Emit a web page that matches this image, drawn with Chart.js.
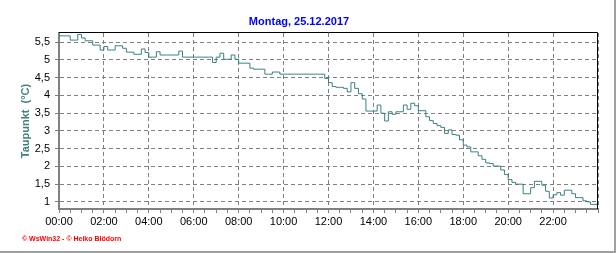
<!DOCTYPE html>
<html lang="de">
<head>
    <meta charset="UTF-8">
    <title>Taupunkt 25.12.2017</title>
    <script src="https://cdn.jsdelivr.net/npm/chart.js"></script>
    <style>
        body {
            margin: 0;
            background-color: #ffffff;
        }
        .frame {
            position: relative;
            width: 614px;
            height: 251px;
            border-right: 2px solid #a0a0a0;
            border-bottom: 2px solid #a0a0a0;
        }
        .credits {
            position: absolute;
            left: 22px;
            top: 234px;
            font: bold 7px "Liberation Sans", Arial, sans-serif;
            line-height: 9px;
            color: #ff0000;
            white-space: nowrap;
        }
    </style>
</head>
<body>
    <div class="frame">
        <canvas id="dewChart" width="614" height="251"></canvas>
        <div class="credits">© WsWin32 - © Heiko Blödorn</div>
    </div>

    <script>
        const chartTitle = 'Montag, 25.12.2017';
        const axisTitle = 'Taupunkt  (°C)';
        const timeLabels = ['00:00', '02:00', '04:00', '06:00', '08:00', '10:00',
                            '12:00', '14:00', '16:00', '18:00', '20:00', '22:00'];
        const tempTicks = [1, 1.5, 2, 2.5, 3, 3.5, 4, 4.5, 5, 5.5];
        const sampleMinutes = 10;

        // Taupunkt alle 10 Minuten ab 00:00
        const dewPoint = [
            5.68, 5.68, 5.68, 5.56, 5.56, 5.72, 5.62, 5.54, 5.54, 5.42,
            5.42, 5.28, 5.38, 5.28, 5.28, 5.40, 5.40, 5.33, 5.22, 5.22,
            5.16, 5.16, 5.31, 5.21, 5.08, 5.08, 5.23, 5.14, 5.14, 5.14,
            5.14, 5.14, 5.25, 5.08, 5.08, 5.08, 5.08, 5.08, 5.08, 5.08,
            5.08, 4.93, 5.08, 5.19, 5.02, 5.02, 5.14, 5.02, 4.91, 4.91,
            4.91, 4.77, 4.74, 4.74, 4.74, 4.60, 4.60, 4.66, 4.66, 4.60,
            4.60, 4.60, 4.60, 4.60, 4.60, 4.60, 4.60, 4.60, 4.60, 4.60,
            4.60, 4.48, 4.36, 4.25, 4.23, 4.23, 4.20, 4.10, 4.36, 4.20,
            4.05, 3.90, 3.56, 3.56, 3.56, 3.73, 3.50, 3.28, 3.54, 3.47,
            3.54, 3.54, 3.73, 3.61, 3.78, 3.71, 3.57, 3.57, 3.40, 3.29,
            3.21, 3.15, 3.10, 2.93, 3.03, 2.90, 2.88, 2.75, 2.60, 2.55,
            2.41, 2.41, 2.30, 2.20, 2.10, 2.08, 2.01, 2.01, 1.90, 1.77,
            1.63, 1.55, 1.50, 1.50, 1.23, 1.23, 1.40, 1.58, 1.58, 1.47,
            1.30, 1.11, 1.20, 1.26, 1.19, 1.33, 1.33, 1.23, 1.12, 1.12,
            1.03, 1.00, 0.93, 0.93, 0.93
        ];

        const points = dewPoint.map((v, i) => ({ x: i * sampleMinutes, y: v }));

        // black top and right edge of the plot box
        const frameLines = {
            id: 'frameLines',
            afterDraw(chart) {
                const { ctx, chartArea: a } = chart;
                ctx.save();
                ctx.strokeStyle = '#000000';
                ctx.lineWidth = 1;
                ctx.beginPath();
                ctx.moveTo(a.left, a.top - 0.5);
                ctx.lineTo(a.right - 0.5, a.top - 0.5);
                ctx.lineTo(a.right - 0.5, a.bottom);
                ctx.stroke();
                ctx.restore();
            }
        };

        Chart.defaults.font.family = '"Liberation Sans", Arial, sans-serif';
        Chart.defaults.font.size = 11;
        Chart.defaults.color = '#000000';

        new Chart(document.getElementById('dewChart'), {
            type: 'line',
            data: {
                datasets: [{
                    data: points,
                    borderColor: '#3a8080',
                    borderWidth: 1,
                    pointRadius: 0,
                    stepped: true,
                    fill: false
                }]
            },
            options: {
                responsive: false,
                animation: false,
                devicePixelRatio: 1,
                layout: {
                    padding: { left: 0, right: 16, top: 0, bottom: 17 }
                },
                plugins: {
                    legend: { display: false },
                    tooltip: { enabled: false },
                    title: {
                        display: true,
                        text: chartTitle,
                        color: '#0000ff',
                        font: { size: 11, weight: 'bold' },
                        padding: { top: 15, bottom: 4.8 }
                    }
                },
                scales: {
                    x: {
                        type: 'linear',
                        min: 0,
                        max: 1440,
                        afterFit: scale => { scale.height = 25; },
                        afterBuildTicks: scale => {
                            const t = [];
                            for (let m = 0; m <= 1440; m += 30) t.push({ value: m });
                            scale.ticks = t;
                        },
                        ticks: {
                            autoSkip: false,
                            maxRotation: 0,
                            padding: 2,
                            callback: v => (v % 120 === 0 && timeLabels[v / 120]) || ''
                        },
                        grid: {
                            color: ctx => (ctx.tick && ctx.tick.value % 120 === 0) ? '#808080' : 'rgba(0,0,0,0)',
                            lineWidth: 1,
                            tickColor: '#808080',
                            tickLength: 4,
                            tickBorderDash: []
                        },
                        border: {
                            color: '#808080',
                            width: 2,
                            dash: [4, 3]
                        }
                    },
                    y: {
                        min: 0.8,
                        max: 5.76,
                        afterFit: scale => { scale.width = 59; },
                        afterBuildTicks: scale => {
                            scale.ticks = tempTicks.map(v => ({ value: v }));
                        },
                        ticks: {
                            padding: 5,
                            callback: v => String(v).replace('.', ',')
                        },
                        title: {
                            display: true,
                            text: axisTitle,
                            color: '#408080',
                            font: { size: 11, weight: 'bold' },
                            padding: { top: 19, bottom: 0 }
                        },
                        grid: {
                            color: '#808080',
                            lineWidth: 1,
                            tickColor: '#808080',
                            tickLength: 4,
                            tickBorderDash: []
                        },
                        border: {
                            color: '#808080',
                            width: 2,
                            dash: [4, 3]
                        }
                    }
                }
            },
            plugins: [frameLines]
        });
    </script>
</body>
</html>
